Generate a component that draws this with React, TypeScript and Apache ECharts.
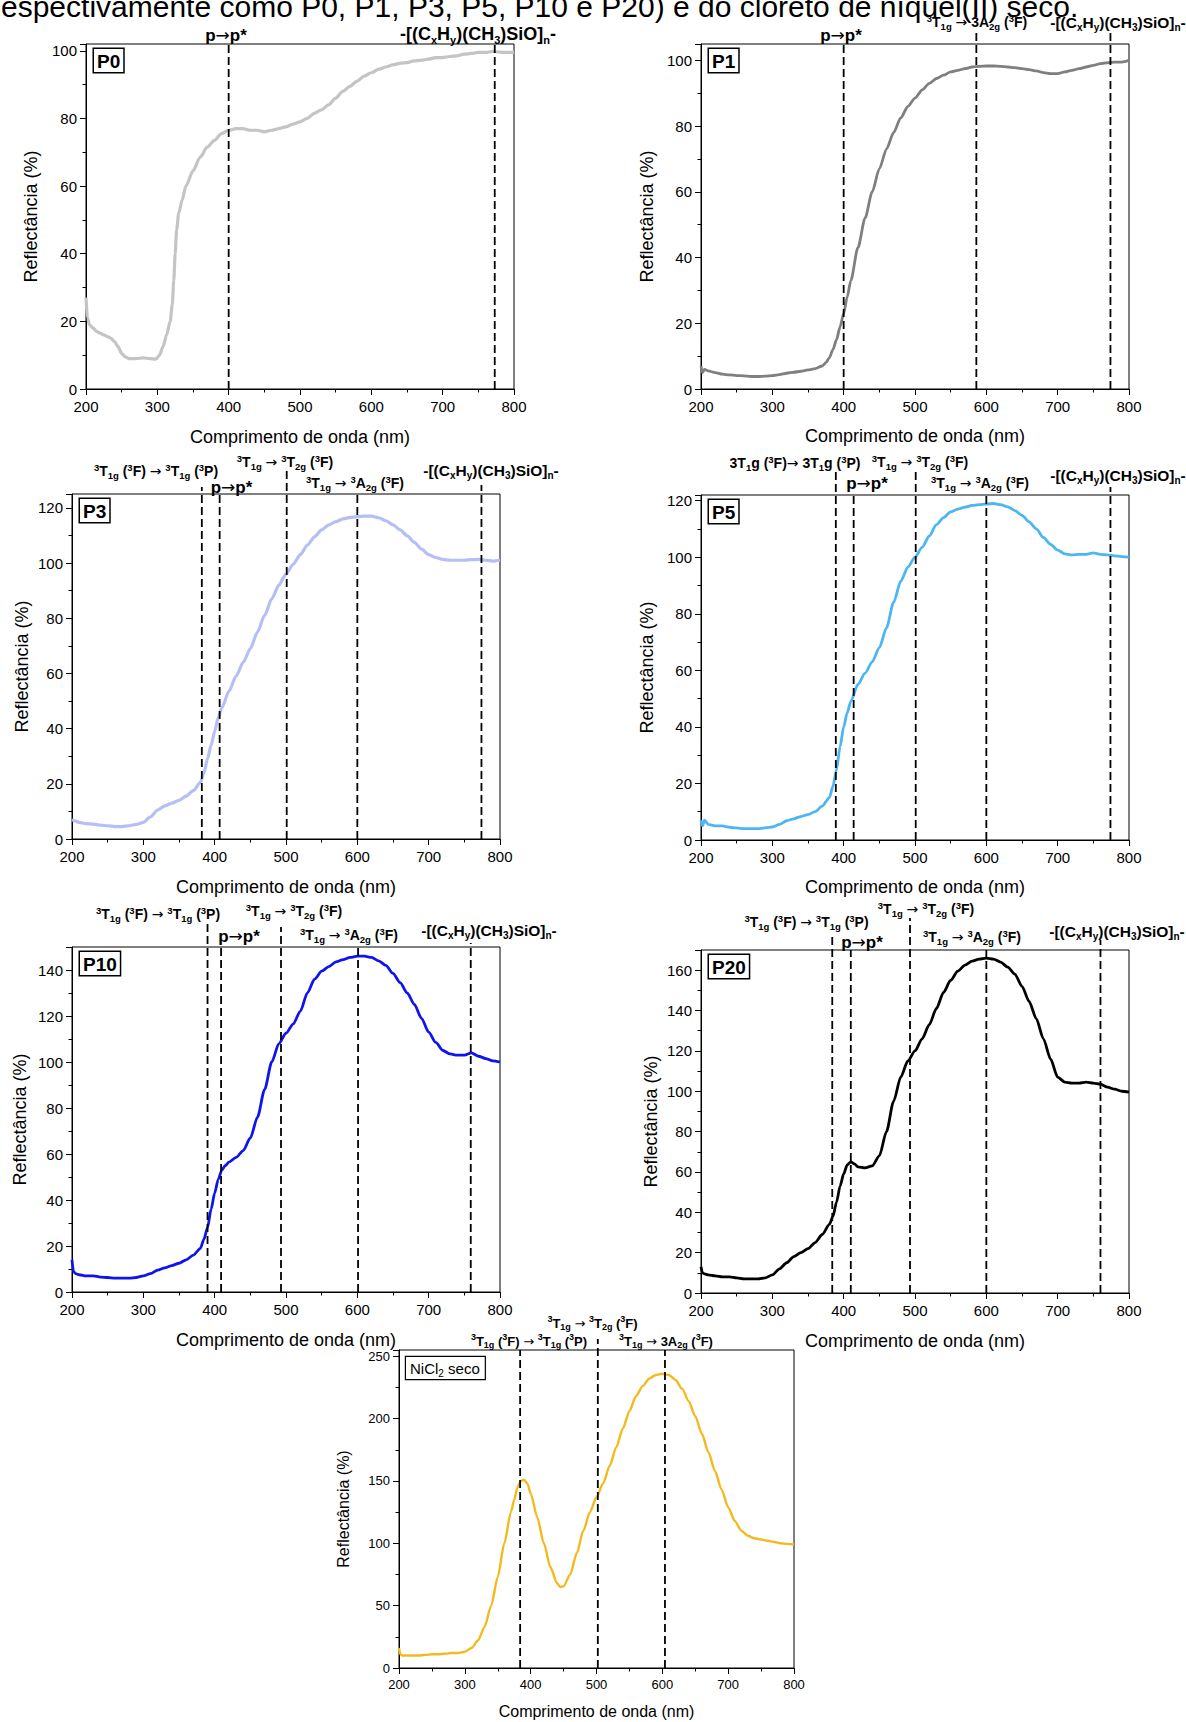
import React, { useEffect, useRef } from 'react';
import * as echarts from 'echarts';

const FONT = "'Liberation Sans', Arial, Helvetica, sans-serif";
const ARROW_FONT = "'DejaVu Sans', 'Liberation Sans', sans-serif";

const HEADER = 'espectivamente como P0, P1, P3, P5, P10 e P20) e do cloreto de níquel(II) seco.';
const X_AXIS_NAME = 'Comprimento de onda (nm)';
const Y_AXIS_NAME = 'Reflectância (%)';

// ---- data: [wavelength (nm), reflectance (%)] ----
const P0_DATA = [
  [200, 27], [202, 21], [205, 19], [210, 18], [215, 17], [220, 16.5], [225, 16], [230, 15.5], [235, 15], [240, 14],
  [245, 12.5], [250, 10.5], [255, 9.5], [260, 9], [270, 9], [280, 9.2], [290, 9], [298, 8.8], [303, 10], [308, 12.5],
  [313, 16], [318, 20], [321, 25], [323, 32], [325, 40], [327, 47], [330, 52], [335, 56], [340, 60], [350, 64.5],
  [360, 68.5], [370, 71.5], [380, 73.5], [390, 75.5], [400, 76.5], [410, 77], [420, 77], [430, 76.5], [440, 76.5], [450, 76],
  [460, 76.5], [470, 77], [480, 77.5], [490, 78.3], [500, 79], [510, 80], [520, 81.5], [530, 82.5], [540, 84], [550, 86],
  [560, 88], [570, 89.5], [580, 91], [590, 92.5], [600, 93.5], [610, 94.5], [620, 95.2], [630, 95.8], [640, 96.3], [650, 96.5],
  [660, 97], [670, 97.2], [680, 97.5], [690, 98], [700, 98], [710, 98.3], [720, 98.5], [730, 99], [740, 99.2], [750, 99.5],
  [760, 99.5], [770, 99.8], [780, 99.6], [790, 99.5], [800, 99.5],
];
const P1_DATA = [
  [200, 7], [202, 5], [205, 6], [210, 5.5], [220, 5], [230, 4.5], [240, 4.3], [250, 4.1], [260, 4], [270, 3.8],
  [280, 3.8], [290, 3.9], [300, 4.1], [310, 4.4], [320, 4.8], [330, 5.1], [340, 5.4], [350, 5.8], [360, 6.2], [370, 7],
  [375, 8], [380, 9.5], [385, 12], [390, 15], [395, 19], [400, 23], [405, 28], [410, 33], [420, 43], [430, 52],
  [440, 60], [450, 67], [460, 73], [470, 78], [480, 82.5], [490, 86], [500, 88.5], [510, 91], [520, 93], [530, 94.5],
  [540, 95.5], [550, 96.5], [560, 97], [570, 97.5], [580, 98], [590, 98.2], [600, 98.3], [610, 98.3], [620, 98.2], [630, 98],
  [640, 97.8], [650, 97.5], [660, 97.2], [670, 96.8], [680, 96.3], [690, 96], [700, 96], [710, 96.5], [720, 97], [730, 97.5],
  [740, 98], [750, 98.5], [760, 99], [770, 99.3], [780, 99.5], [790, 99.5], [800, 100],
];
const P3_DATA = [
  [200, 7], [205, 6.5], [210, 6], [220, 5.6], [230, 5.4], [240, 5], [250, 4.8], [260, 4.5], [270, 4.5], [280, 4.8],
  [290, 5.3], [300, 6], [310, 8], [320, 10.5], [330, 12], [340, 13], [350, 14], [360, 15.5], [370, 17.5], [380, 20.5],
  [385, 24], [390, 29], [395, 34], [400, 39], [405, 44], [410, 47.5], [420, 53.5], [430, 59], [440, 64], [450, 69],
  [460, 75], [470, 81], [480, 87], [490, 92], [500, 96], [510, 99.5], [520, 103], [530, 106.5], [540, 109.5], [550, 112],
  [560, 113.8], [570, 115], [580, 116], [590, 116.5], [600, 116.8], [610, 117], [620, 117], [630, 116.4], [640, 115.3], [650, 113.8],
  [660, 112], [670, 109.8], [680, 107.5], [690, 105], [700, 103], [710, 102], [720, 101.3], [730, 101], [740, 101], [750, 101],
  [760, 101.2], [770, 101.3], [780, 101], [790, 100.7], [800, 101],
];
const P5_DATA = [
  [200, 7], [202, 5], [205, 7], [210, 5.5], [220, 5], [230, 5], [240, 4.5], [250, 4.3], [260, 4], [270, 4],
  [280, 4], [290, 4.3], [300, 4.6], [310, 5.5], [320, 6.8], [330, 7.5], [340, 8.3], [350, 9], [360, 10], [370, 12],
  [380, 15], [385, 19], [390, 25], [395, 33], [400, 40], [405, 45], [410, 49], [420, 55], [430, 59], [440, 63],
  [450, 68], [460, 75], [470, 84], [480, 91.5], [490, 96.5], [500, 100], [510, 103.5], [520, 107.5], [530, 111.5], [540, 114],
  [550, 116], [560, 117], [570, 117.7], [580, 118.3], [590, 118.6], [600, 118.8], [610, 119], [620, 118.6], [630, 117.8], [640, 116.5],
  [650, 114.8], [660, 112.5], [670, 110], [680, 107], [690, 104.5], [700, 102.5], [710, 101.2], [720, 100.8], [730, 101], [740, 101],
  [750, 101.5], [760, 101], [770, 100.8], [780, 100.5], [790, 100.2], [800, 100],
];
const P10_DATA = [
  [200, 14], [202, 9], [205, 8], [210, 7.5], [220, 7], [230, 7], [240, 6.5], [250, 6.3], [260, 6], [270, 6],
  [280, 6], [290, 6.3], [300, 7], [310, 8], [320, 9.5], [330, 10.5], [340, 11.5], [350, 12.5], [360, 14], [370, 16],
  [380, 19], [385, 23], [390, 28], [395, 36], [400, 43], [405, 49], [410, 53], [415, 55], [420, 56.5], [430, 58.5],
  [440, 61.5], [450, 67], [460, 76], [470, 88], [480, 100], [490, 108], [500, 112.5], [510, 116.5], [520, 122], [530, 130],
  [540, 136], [550, 139.5], [560, 141.5], [570, 143.5], [580, 144.5], [590, 145.5], [600, 146], [610, 146], [620, 145.5], [630, 144],
  [640, 142], [650, 138.5], [660, 134.5], [670, 130], [680, 125], [690, 119], [700, 113], [710, 108.5], [720, 105], [730, 103.5],
  [740, 103], [750, 103], [760, 104], [770, 102.5], [780, 101.5], [790, 100.5], [800, 100],
];
const P20_DATA = [
  [200, 13], [202, 10], [205, 9.5], [210, 9], [220, 8.5], [230, 8], [240, 8], [250, 7.5], [260, 7], [270, 7],
  [280, 7], [290, 7.5], [300, 9], [310, 12], [320, 15], [330, 18], [340, 20], [350, 22], [360, 25], [370, 29],
  [380, 34], [385, 38], [390, 45], [395, 53], [400, 59], [405, 63.5], [410, 65], [415, 64], [420, 62.5], [430, 62],
  [440, 63], [450, 68], [460, 80], [470, 95], [480, 107], [490, 115], [500, 120], [510, 126], [520, 133], [530, 141],
  [540, 149], [550, 155], [560, 159.5], [570, 162.5], [580, 164.5], [590, 165.5], [600, 166], [610, 165.5], [620, 164], [630, 161.5],
  [640, 158], [650, 152], [660, 144.5], [670, 136], [680, 126], [690, 116], [700, 107], [710, 104.5], [720, 104], [730, 104],
  [740, 104.5], [750, 104], [760, 103.5], [770, 102], [780, 101], [790, 100], [800, 99.5],
];
const NICL2_DATA = [
  [200, 16], [202, 11], [205, 10], [210, 10], [220, 10], [230, 10], [240, 10.5], [250, 11], [260, 11], [270, 11.5],
  [280, 12], [290, 12], [300, 13], [310, 16], [320, 22], [330, 33], [340, 50], [350, 73], [360, 100], [370, 125],
  [375, 135], [380, 145], [385, 150], [390, 151], [395, 148], [400, 140], [410, 121], [420, 100], [430, 81], [440, 68],
  [445, 65], [450, 65.5], [460, 75], [470, 92], [480, 110], [490, 125], [500, 137], [510, 148], [520, 162], [530, 177],
  [540, 192], [550, 206], [560, 218], [570, 226], [580, 232], [590, 235], [600, 236], [610, 235], [620, 231], [630, 224],
  [640, 214], [650, 202], [660, 188], [670, 173], [680, 158], [690, 143], [700, 129], [710, 118], [720, 110], [730, 106],
  [740, 104], [750, 103], [760, 102], [770, 101], [780, 100], [790, 99.5], [800, 99],
];

// dashed reference lines (nm)
const P0_LINES = [400, 773];
const P1_LINES = [400, 586, 774];
const P3_LINES = [382, 407, 501, 600, 774];
const P5_LINES = [389, 414, 501, 600, 774];
const P10_LINES = [390, 409, 493, 601, 759];
const P20_LINES = [384, 410, 493, 600, 760];
const NICL2_LINES = [384, 502, 604];

// annotation texts (rich)
const NB = '\u00a0';
const ARW = `{b|${NB}}{a|→}{b|${NB}}`;
const T_A = `{s|3}{b|T}{d|1g}{b|${NB}(}{s|3}{b|F)}${ARW}{s|3}{b|T}{d|1g}{b|${NB}(}{s|3}{b|P)}`;
const T_A5 = `{b|3T}{d|1}{b|g${NB}(}{s|3}{b|F)}{a|→}{b|${NB}3T}{d|1}{b|g${NB}(}{s|3}{b|P)}`;
const T_B = `{s|3}{b|T}{d|1g}${ARW}{s|3}{b|T}{d|2g}{b|${NB}(}{s|3}{b|F)}`;
const T_C = `{s|3}{b|T}{d|1g}${ARW}{s|3}{b|A}{d|2g}{b|${NB}(}{s|3}{b|F)}`;
const T_C1 = `{s|3}{b|T}{d|1g}${ARW}{b|3A}{d|2g}{b|${NB}(}{s|3}{b|F)}`;
const T_PP = '{b|p}{a|→}{b|p*}';
const T_POLY = '{b|-[(C}{d|x}{b|H}{d|y}{b|)(CH}{d|3}{b|)SiO]}{d|n}{b|-}';

const KINDS: Record<string, [number, number]> = {
  t: [14, 9.5],
  ts: [13, 9],
  pp: [17, 11],
  poly: [15.5, 10],
  polyL: [18, 11],
};

const PANELS = [
  {
    name: 'P0', data: P0_DATA, color: '#c4c4c4', width: 3.2, yMax: 102, yInterval: 20, lines: P0_LINES,
    lineTops: [null, null], grid: { left: 86, top: 44, width: 428, height: 345 }, yNameGap: 46, xNameGap: 39,
    titleSize: 18, tickSize: 15,
    labels: [
      { t: T_PP, x: 226, y: 35, k: 'pp' },
      { t: T_POLY, x: 478, y: 34, k: 'polyL' },
    ],
  },
  {
    name: 'P1', data: P1_DATA, color: '#7f7f7f', width: 2.8, yMax: 105, yInterval: 20, lines: P1_LINES,
    lineTops: [null, 33, 33], grid: { left: 701, top: 44, width: 428, height: 345 }, yNameGap: 45, xNameGap: 38,
    titleSize: 18, tickSize: 15,
    labels: [
      { t: T_PP, x: 841, y: 35, k: 'pp' },
      { t: T_C1, x: 977, y: 22, k: 't' },
      { t: T_POLY, x: 1118, y: 22, k: 'poly' },
    ],
  },
  {
    name: 'P3', data: P3_DATA, color: '#b5bff6', width: 3.2, yMax: 125, yInterval: 20, lines: P3_LINES,
    lineTops: [487, null, 468, null, 485], grid: { left: 72, top: 494, width: 428, height: 345 }, yNameGap: 41, xNameGap: 39,
    titleSize: 18, tickSize: 15,
    labels: [
      { t: T_A, x: 156, y: 471, k: 't' },
      { t: T_B, x: 285, y: 462, k: 't' },
      { t: T_PP, x: 231.5, y: 487, k: 'pp' },
      { t: T_C, x: 355, y: 483, k: 't' },
      { t: T_POLY, x: 491, y: 470, k: 'poly' },
    ],
  },
  {
    name: 'P5', data: P5_DATA, color: '#4cb6f2', width: 2.8, yMax: 122, yInterval: 20, lines: P5_LINES,
    lineTops: [472, null, 472, null, 487], grid: { left: 701, top: 495, width: 428, height: 345 }, yNameGap: 45, xNameGap: 38,
    titleSize: 18, tickSize: 15,
    labels: [
      { t: T_A5, x: 795, y: 463, k: 't' },
      { t: T_B, x: 920, y: 462, k: 't' },
      { t: T_PP, x: 867, y: 483, k: 'pp' },
      { t: T_C, x: 980, y: 483, k: 't' },
      { t: T_POLY, x: 1118, y: 475, k: 'poly' },
    ],
  },
  {
    name: 'P10', data: P10_DATA, color: '#0f14ee', width: 2.8, yMax: 150, yInterval: 20, lines: P10_LINES,
    lineTops: [923, null, 927, null, 943], grid: { left: 72, top: 947, width: 428, height: 345 }, yNameGap: 43, xNameGap: 39,
    titleSize: 18, tickSize: 15,
    labels: [
      { t: T_A, x: 158, y: 914, k: 't' },
      { t: T_B, x: 294, y: 911, k: 't' },
      { t: T_PP, x: 239, y: 936, k: 'pp' },
      { t: T_C, x: 349, y: 935, k: 't' },
      { t: T_POLY, x: 489, y: 930, k: 'poly' },
    ],
  },
  {
    name: 'P20', data: P20_DATA, color: '#000000', width: 2.8, yMax: 170, yInterval: 20, lines: P20_LINES,
    lineTops: [934, null, 918, null, 940], grid: { left: 701, top: 950, width: 428, height: 343 }, yNameGap: 41, xNameGap: 39,
    titleSize: 18, tickSize: 15,
    labels: [
      { t: T_A, x: 806.5, y: 922, k: 't' },
      { t: T_B, x: 926, y: 909, k: 't' },
      { t: T_PP, x: 862, y: 942, k: 'pp' },
      { t: T_C, x: 972, y: 937, k: 't' },
      { t: T_POLY, x: 1117, y: 931, k: 'poly' },
    ],
  },
  {
    name: 'NiCl2', data: NICL2_DATA, color: '#f4b91e', width: 2.4, yMax: 255, yInterval: 50, lines: NICL2_LINES,
    lineTops: [null, 1339, null], grid: { left: 399, top: 1350, width: 395, height: 318 }, yNameGap: 48, xNameGap: 35,
    titleSize: 16, tickSize: 13,
    labels: [
      { t: T_A, x: 529, y: 1341, k: 'ts' },
      { t: T_B, x: 592.5, y: 1323, k: 'ts' },
      { t: T_C1, x: 666, y: 1341, k: 'ts' },
    ],
  },
];

function richFor(main: number, small: number) {
  const base = { fontFamily: FONT, fontWeight: 'bold', fill: '#000', color: '#000' };
  const lh = Math.round(main * 1.3);
  return {
    b: { ...base, fontSize: main, lineHeight: lh },
    a: { fontFamily: ARROW_FONT, fontWeight: 'normal', fill: '#000', color: '#000', fontSize: main },
    s: { ...base, fontSize: small, verticalAlign: 'top' },
    d: { ...base, fontSize: small, verticalAlign: 'bottom' },
  };
}

function buildOption(): any {
  const axisLineStyle = { color: '#000', width: 1 };
  return {
    animation: false,
    backgroundColor: '#ffffff',
    grid: PANELS.map((p) => ({
      left: p.grid.left,
      top: p.grid.top,
      width: p.grid.width,
      height: p.grid.height,
      show: true,
      borderColor: '#000',
      borderWidth: 1,
      backgroundColor: 'transparent',
      containLabel: false,
      outerBoundsMode: 'none',
    })),
    xAxis: PANELS.map((p, i) => ({
      gridIndex: i,
      type: 'value',
      min: 200,
      max: 800,
      interval: 100,
      name: X_AXIS_NAME,
      nameLocation: 'middle',
      nameGap: p.xNameGap,
      nameTextStyle: { fontFamily: FONT, fontSize: p.titleSize, color: '#000' },
      axisLine: { show: true, onZero: false, lineStyle: axisLineStyle },
      axisTick: { show: true, inside: false, length: 6, lineStyle: axisLineStyle },
      minorTick: { show: true, splitNumber: 2, length: 3.5, lineStyle: axisLineStyle },
      axisLabel: { fontFamily: FONT, fontSize: p.tickSize, color: '#000', margin: 10 },
      splitLine: { show: false },
      minorSplitLine: { show: false },
    })),
    yAxis: PANELS.map((p, i) => ({
      gridIndex: i,
      type: 'value',
      min: 0,
      max: p.yMax,
      interval: p.yInterval,
      name: Y_AXIS_NAME,
      nameLocation: 'middle',
      nameGap: p.yNameGap,
      nameTextStyle: { fontFamily: FONT, fontSize: p.titleSize, color: '#000' },
      axisLine: { show: true, onZero: false, lineStyle: axisLineStyle },
      axisTick: { show: true, inside: false, length: 6, lineStyle: axisLineStyle },
      minorTick: { show: true, splitNumber: 2, length: 3.5, lineStyle: axisLineStyle },
      axisLabel: {
        fontFamily: FONT,
        fontSize: p.tickSize,
        color: '#000',
        margin: 9,
        formatter: (v: number) => (Math.abs(v % p.yInterval) < 1e-6 ? String(v) : ''),
      },
      splitLine: { show: false },
      minorSplitLine: { show: false },
    })),
    series: PANELS.map((p, i) => ({
      type: 'line',
      name: p.name,
      xAxisIndex: i,
      yAxisIndex: i,
      data: p.data,
      showSymbol: false,
      symbol: 'none',
      smooth: 0.25,
      smoothMonotone: 'x',
      silent: true,
      lineStyle: { color: p.color, width: p.width },
      itemStyle: { color: p.color },
      z: 2,
    })),
  };
}

function buildGraphics(chart: any): any[] {
  const els: any[] = [];
  els.push({
    type: 'text',
    x: 1,
    y: 6,
    silent: true,
    style: {
      text: HEADER,
      fontFamily: FONT,
      fontSize: 30,
      fill: '#000',
      align: 'left',
      textAlign: 'left',
      verticalAlign: 'middle',
      textVerticalAlign: 'middle',
    },
  });
  PANELS.forEach((p, i) => {
    p.lines.forEach((x, j) => {
      let pt = chart.convertToPixel({ gridIndex: i }, [x, 0]);
      if (!pt || !Array.isArray(pt)) {
        pt = [p.grid.left + ((x - 200) / 600) * p.grid.width, p.grid.top + p.grid.height];
      }
      const top = p.lineTops[j] == null ? p.grid.top : (p.lineTops[j] as number);
      els.push({
        type: 'line',
        silent: true,
        z: 50,
        shape: { x1: pt[0], y1: pt[1], x2: pt[0], y2: top },
        style: { stroke: '#000', lineWidth: 1.8, lineDash: [8, 4] },
      });
    });
    p.labels.forEach((l) => {
      const [main, small] = KINDS[l.k];
      els.push({
        type: 'text',
        x: l.x,
        y: l.y,
        z: 60,
        silent: true,
        style: {
          text: l.t,
          rich: richFor(main, small),
          fontFamily: FONT,
          fontSize: main,
          fontWeight: 'bold',
          fill: '#000',
          align: 'center',
          textAlign: 'center',
          verticalAlign: 'middle',
          textVerticalAlign: 'middle',
        },
      });
    });
    if (p.name === 'NiCl2') {
      els.push({
        type: 'text',
        x: p.grid.left + 7,
        y: p.grid.top + 7,
        z: 60,
        silent: true,
        style: {
          text: `{n|NiCl}{m|2}{n|${NB}seco}`,
          rich: {
            n: { fontFamily: FONT, fontSize: 15, fill: '#000', color: '#000', lineHeight: 19 },
            m: { fontFamily: FONT, fontSize: 10, fill: '#000', color: '#000', verticalAlign: 'bottom' },
          },
          fontFamily: FONT,
          fontSize: 15,
          fill: '#000',
          backgroundColor: '#fff',
          borderColor: '#000',
          borderWidth: 1.2,
          padding: [2, 5, 1, 4],
          align: 'left',
          textAlign: 'left',
          verticalAlign: 'top',
          textVerticalAlign: 'top',
        },
      });
    } else {
      els.push({
        type: 'text',
        x: p.grid.left + 8,
        y: p.grid.top + 5,
        z: 60,
        silent: true,
        style: {
          text: p.name,
          fontFamily: FONT,
          fontSize: 19,
          fontWeight: 'bold',
          fill: '#000',
          backgroundColor: '#fff',
          borderColor: '#000',
          borderWidth: 1.5,
          padding: [3, 3, 1, 3],
          align: 'left',
          textAlign: 'left',
          verticalAlign: 'top',
          textVerticalAlign: 'top',
        },
      });
    }
  });
  return els;
}

export default function App() {
  const ref = useRef<HTMLDivElement>(null);
  useEffect(() => {
    const el = ref.current;
    if (!el) return;
    const chart = echarts.init(el, null, { renderer: 'svg' });
    chart.setOption(buildOption());
    chart.setOption({ graphic: buildGraphics(chart) });
    return () => {
      chart.dispose();
    };
  }, []);
  return (
    <div
      ref={ref}
      style={{ position: 'absolute', left: 0, top: 0, width: 1186, height: 1722, background: '#fff' }}
    />
  );
}
